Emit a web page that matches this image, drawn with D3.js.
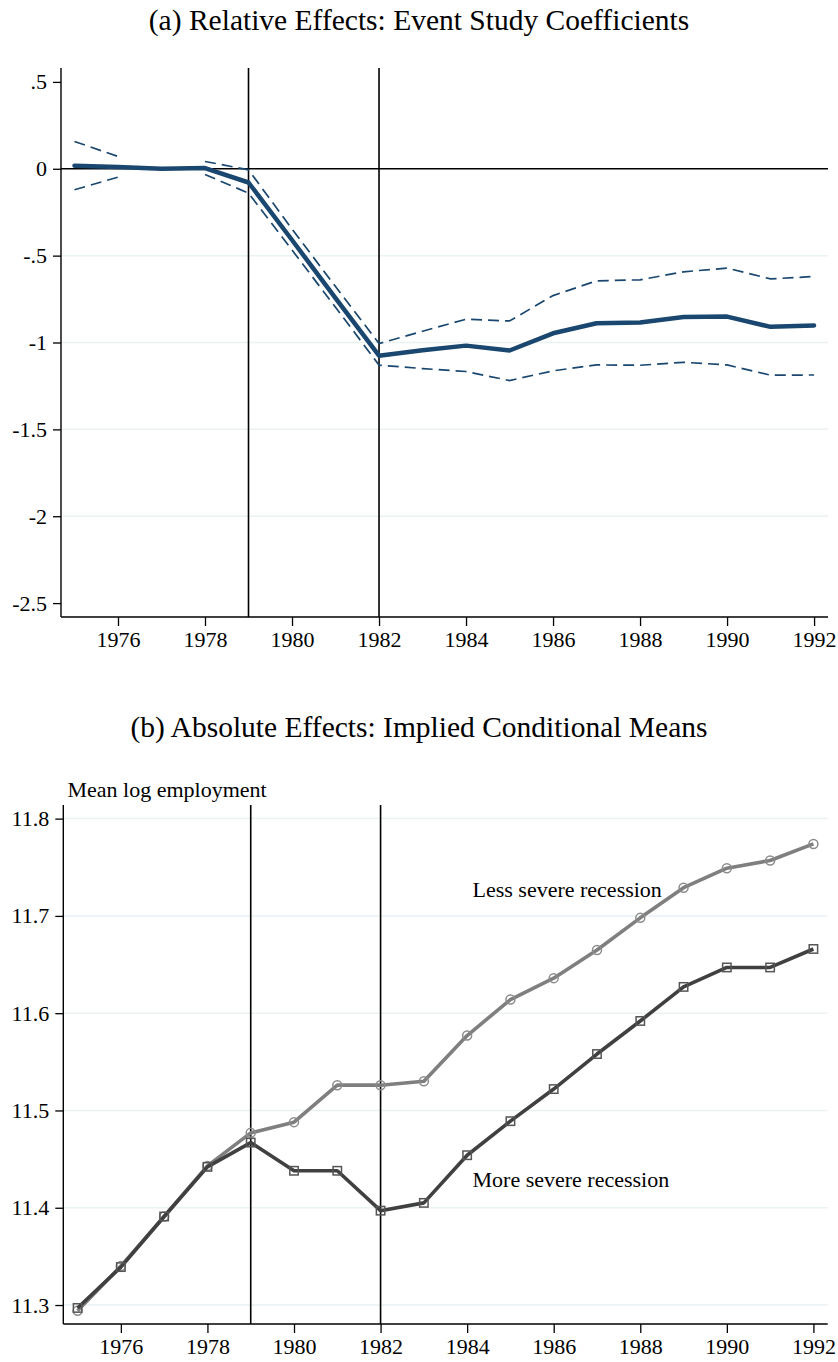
<!DOCTYPE html>
<html>
<head>
<meta charset="utf-8">
<script src="https://cdn.jsdelivr.net/npm/d3@7"></script>
<style>
  html, body { margin: 0; padding: 0; background: #fff; }
  svg text { font-family: "Liberation Serif", "Times New Roman", serif; fill: #000; }
</style>
</head>
<body>
<svg id="chart" width="838" height="1362"></svg>
<script>
// Event-study panel (a)
const years = [1975,1976,1977,1978,1979,1980,1981,1982,1983,1984,1985,1986,1987,1988,1989,1990,1991,1992];
const coef  = [0.017,0.010,0.000,0.004,-0.079,-0.410,-0.745,-1.076,-1.045,-1.018,-1.046,-0.947,-0.889,-0.885,-0.853,-0.851,-0.910,-0.902];
const ciHigh = [0.157,0.071,null,0.042,-0.006,-0.347,-0.678,-1.006,-0.935,-0.866,-0.876,-0.730,-0.645,-0.639,-0.593,-0.572,-0.634,-0.620];
const ciLow  = [-0.121,-0.048,null,-0.033,-0.140,-0.468,-0.797,-1.130,-1.150,-1.167,-1.219,-1.163,-1.129,-1.131,-1.114,-1.129,-1.188,-1.187];
const ticksA = [0.5,0,-0.5,-1,-1.5,-2,-2.5];
const tickLabelsA = [".5","0","-.5","-1","-1.5","-2","-2.5"];

// Conditional means panel (b)
const lessSevere = [11.294,11.340,11.391,11.443,11.477,11.488,11.526,11.526,11.530,11.577,11.614,11.636,11.665,11.698,11.729,11.749,11.757,11.774];
const moreSevere = [11.297,11.339,11.391,11.442,11.467,11.438,11.438,11.397,11.405,11.454,11.489,11.522,11.558,11.592,11.627,11.647,11.647,11.666];
const ticksB = [11.3,11.4,11.5,11.6,11.7,11.8];
const tickLabelsB = ["11.3","11.4","11.5","11.6","11.7","11.8"];

const xTicks = [1976,1978,1980,1982,1984,1986,1988,1990,1992];
const eventLines = [1979,1982];

const svg = d3.select("#chart");
const navy = "#1a476f";
const gridColor = "#eaf2f3";
const tickFont = 22;

function panelAxes(g, x, y, yTicks, yLabels, gridTicks) {
  const [x0, x1] = x.range();
  const [yb, yt] = y.range();
  // grid
  g.append("g").selectAll("line").data(gridTicks).join("line")
    .attr("x1", x0).attr("x2", x1)
    .attr("y1", d => y(d)).attr("y2", d => y(d))
    .attr("stroke", gridColor).attr("stroke-width", 1.5);
  // y axis
  const ya = g.append("g").attr("transform", `translate(${x0},0)`)
    .call(d3.axisLeft(y).tickValues(yTicks).tickSize(8).tickPadding(6)
      .tickFormat((d, i) => yLabels[i]));
  ya.select(".domain").attr("d", `M0,${yb}V${yt}`).attr("stroke-width", 1.4);
  ya.selectAll(".tick line").attr("stroke-width", 1.3);
  ya.selectAll("text").attr("font-size", tickFont).attr("font-family", "Liberation Serif");
  // x axis
  const xa = g.append("g").attr("transform", `translate(0,${yb})`)
    .call(d3.axisBottom(x).tickValues(xTicks).tickSize(9).tickPadding(5).tickFormat(d3.format("d")));
  xa.select(".domain").attr("d", `M${x0},0H${x1}`).attr("stroke-width", 1.4);
  xa.selectAll(".tick line").attr("stroke-width", 1.3);
  xa.selectAll("text").attr("font-size", tickFont).attr("font-family", "Liberation Serif");
  // event lines
  g.append("g").selectAll("line").data(eventLines).join("line")
    .attr("x1", d => x(d)).attr("x2", d => x(d))
    .attr("y1", yb).attr("y2", yt)
    .attr("stroke", "#000").attr("stroke-width", 1.6);
}

// ---------- Panel (a) ----------
{
  const x = d3.scaleLinear().domain([1974.69, 1992.32]).range([61, 828]);
  const y = d3.scaleLinear().domain([-2.58, 0.58]).range([617, 68]);
  const g = svg.append("g");

  svg.append("text").attr("x", 419).attr("y", 30).attr("text-anchor", "middle")
    .attr("font-size", 29.5).text("(a) Relative Effects: Event Study Coefficients");

  panelAxes(g, x, y, ticksA, tickLabelsA, [-0.5, -1, -1.5, -2]);

  g.append("line").attr("x1", x.range()[0]).attr("x2", x.range()[1])
    .attr("y1", y(0)).attr("y2", y(0)).attr("stroke", "#000").attr("stroke-width", 1.6);

  const line = d3.line().defined(d => d[1] !== null).x(d => x(d[0])).y(d => y(d[1]));
  [ciHigh, ciLow].forEach(arr => {
    g.append("path").datum(years.map((yr, i) => [yr, arr[i]]))
      .attr("d", line).attr("fill", "none").attr("stroke", navy)
      .attr("stroke-width", 1.7).attr("stroke-dasharray", "11,6");
  });
  g.append("path").datum(years.map((yr, i) => [yr, coef[i]]))
    .attr("d", line).attr("fill", "none").attr("stroke", navy)
    .attr("stroke-width", 4.5).attr("stroke-linejoin", "round").attr("stroke-linecap", "round");
}

// ---------- Panel (b) ----------
{
  const x = d3.scaleLinear().domain([1974.67, 1992.33]).range([63.3, 827.7]);
  const y = d3.scaleLinear().domain([11.2805, 11.814]).range([1324, 805]);
  const g = svg.append("g");

  svg.append("text").attr("x", 419).attr("y", 737).attr("text-anchor", "middle")
    .attr("font-size", 29.5).text("(b) Absolute Effects: Implied Conditional Means");

  panelAxes(g, x, y, ticksB, tickLabelsB, ticksB);

  g.append("text").attr("x", 67.5).attr("y", 797).attr("font-size", 22).text("Mean log employment");

  const line = d3.line().x(d => x(d[0])).y(d => y(d[1]));
  const lessPts = years.map((yr, i) => [yr, lessSevere[i]]);
  const morePts = years.map((yr, i) => [yr, moreSevere[i]]);

  g.append("path").datum(lessPts).attr("d", line).attr("fill", "none")
    .attr("stroke", "#7f7f7f").attr("stroke-width", 3.6).attr("stroke-linejoin", "round");
  g.append("g").selectAll("circle").data(lessPts).join("circle")
    .attr("cx", d => x(d[0])).attr("cy", d => y(d[1])).attr("r", 4.5)
    .attr("fill", "none").attr("stroke", "#8c8c8c").attr("stroke-width", 1.5);

  g.append("path").datum(morePts).attr("d", line).attr("fill", "none")
    .attr("stroke", "#404040").attr("stroke-width", 3.6).attr("stroke-linejoin", "round");
  g.append("g").selectAll("rect").data(morePts).join("rect")
    .attr("x", d => x(d[0]) - 4.2).attr("y", d => y(d[1]) - 4.2)
    .attr("width", 8.4).attr("height", 8.4)
    .attr("fill", "none").attr("stroke", "#555").attr("stroke-width", 1.5);

  g.append("text").attr("x", 472.5).attr("y", 897).attr("font-size", 22).text("Less severe recession");
  g.append("text").attr("x", 472.5).attr("y", 1187).attr("font-size", 22).text("More severe recession");
}
</script>
</body>
</html>
